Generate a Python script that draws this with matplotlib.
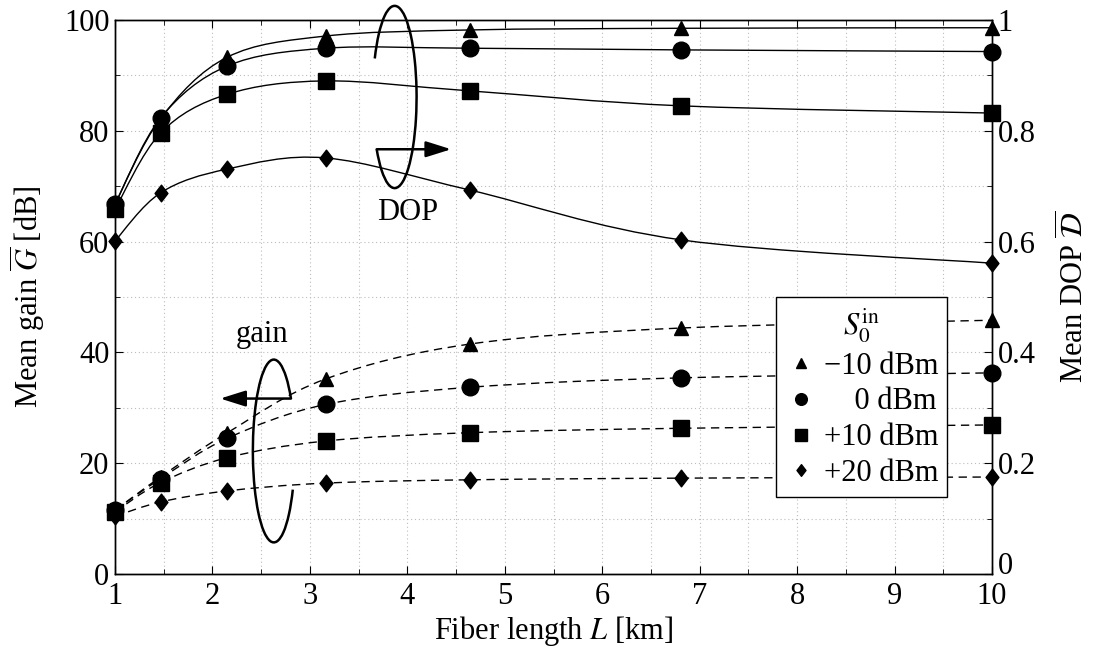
import numpy as np
import matplotlib
matplotlib.use('Agg')
import matplotlib.pyplot as plt
from matplotlib.path import Path
from matplotlib.patches import PathPatch, Arc
from matplotlib.lines import Line2D
from matplotlib.ticker import MultipleLocator, FormatStrFormatter

plt.rcParams['font.family'] = ['Liberation Serif', 'DejaVu Serif']
plt.rcParams['mathtext.fontset'] = 'stix'
plt.rcParams['font.size'] = 22

# fiber lengths [km]
length = [1.0, 1.468, 2.154, 3.162, 4.642, 6.813, 10.0]

# input power levels
power_labels = ['\u221210 dBm', '    0 dBm', '+10 dBm', '+20 dBm']

# wider diamond than matplotlib's 'd'
diamond = Path([(0, 1), (0.77, 0), (0, -1), (-0.77, 0), (0, 1)],
               [Path.MOVETO, Path.LINETO, Path.LINETO, Path.LINETO, Path.CLOSEPOLY])
markers = ['^', 'o', 's', diamond]
msizes = [10, 12, 12, 12]

# mean gain [dB]
gain_m10 = [11.5, 17.5, 25.5, 35.2, 41.5, 44.4, 45.8]
gain_0 = [11.5, 17.2, 24.5, 30.6, 33.7, 35.4, 36.3]
gain_p10 = [11.2, 16.5, 21.0, 24.0, 25.5, 26.3, 26.9]
gain_p20 = [10.4, 13.0, 15.0, 16.4, 17.0, 17.3, 17.5]

# mean DOP
dop_m10 = [0.668, 0.822, 0.933, 0.971, 0.982, 0.985, 0.986]
dop_0 = [0.667, 0.823, 0.917, 0.949, 0.949, 0.946, 0.943]
dop_p10 = [0.658, 0.796, 0.866, 0.890, 0.872, 0.845, 0.832]
dop_p20 = [0.601, 0.688, 0.731, 0.751, 0.693, 0.603, 0.561]

gains = [gain_m10, gain_0, gain_p10, gain_p20]
dops = [dop_m10, dop_0, dop_p10, dop_p20]


def smooth_path(x, y):
    # smooth curve through the points (like pgfplots "smooth")
    pts = np.column_stack([x, y])
    n = len(pts)
    verts = [pts[0]]
    codes = [Path.MOVETO]
    for i in range(n - 1):
        p0 = pts[max(i - 1, 0)]
        p1 = pts[i]
        p2 = pts[i + 1]
        p3 = pts[min(i + 2, n - 1)]
        verts += [p1 + (p2 - p0) / 6, p2 - (p3 - p1) / 6, p2]
        codes += [Path.CURVE4] * 3
    return Path(verts, codes)


def open_ellipse(ax, cx, cy, w, h, t1, t2):
    # t1, t2 are parametric angles; convert to what Arc expects
    th1 = np.degrees(np.arctan2(h * np.sin(np.radians(t1)), w * np.cos(np.radians(t1))))
    th2 = np.degrees(np.arctan2(h * np.sin(np.radians(t2)), w * np.cos(np.radians(t2))))
    ax.add_patch(Arc((cx, cy), w, h, theta1=th1, theta2=th2, lw=1.8,
                     color='black', zorder=5, clip_on=False))


fig = plt.figure(figsize=(10.98, 6.55), dpi=100)
ax = fig.add_axes([0.1047, 0.1237, 0.7988, 0.8458])
ax2 = ax.twinx()

for g, d, m, ms in zip(gains, dops, markers, msizes):
    ax.add_patch(PathPatch(smooth_path(length, g), fill=False, lw=1.0,
                           linestyle=(0, (6, 4)), edgecolor='black', zorder=3))
    ax.plot(length, g, linestyle='none', marker=m, ms=ms, color='black', zorder=4, clip_on=False)
    ax2.add_patch(PathPatch(smooth_path(length, d), fill=False, lw=1.0,
                            edgecolor='black', zorder=3))
    ax2.plot(length, d, linestyle='none', marker=m, ms=ms, color='black', zorder=4, clip_on=False)

ax.set_xlim(1, 10)
ax.set_ylim(0, 100)
ax2.set_ylim(0, 1)

ax.set_xticks(range(1, 11))
ax.xaxis.set_minor_locator(MultipleLocator(0.5))
ax.set_yticks(range(0, 101, 20))
ax.yaxis.set_minor_locator(MultipleLocator(10))
ax2.set_yticks(np.arange(0, 1.01, 0.2))
ax2.yaxis.set_major_formatter(FormatStrFormatter('%g'))
ax2.yaxis.set_minor_locator(MultipleLocator(0.1))

ax.grid(which='both', linestyle=(0, (1, 2.5)), color='#bdbdbd', lw=0.8)
ax.tick_params(which='both', direction='in', top=True, right=False)
ax.tick_params(axis='x', pad=6)
ax.tick_params(axis='y', pad=4)
ax.tick_params(which='major', length=6)
ax.tick_params(which='minor', length=3.5)
ax2.tick_params(which='both', direction='in', pad=4)
ax2.tick_params(which='major', length=6)
ax2.tick_params(which='minor', length=3.5)
for a in (ax, ax2):
    for s in a.spines.values():
        s.set_linewidth(1.0)

# right-hand "0" sits above the corner so it clears the x label "10"
ax2.get_yticklabels()[0].set_va('baseline')

ax.set_xlabel('Fiber length $L$ [km]', labelpad=2)
ax.set_ylabel(r'Mean gain $\overline{G}$ [dB]', labelpad=12)
ax2.set_ylabel(r'Mean DOP $\overline{\mathcal{D}}$', labelpad=16)

# DOP annotation (ellipse + arrow to the right)
cx, cy, w, h = 3.87, 86.1, 0.45, 32.9
open_ellipse(ax, cx, cy, w, h, 215, 155)
sx = cx + w / 2 * np.cos(np.radians(215))
sy = cy + h / 2 * np.sin(np.radians(215))
ax.annotate('', xy=(4.45, sy), xytext=(sx, sy),
            arrowprops=dict(arrowstyle='-|>,head_length=0.7,head_width=0.22',
                            lw=1.8, color='black', shrinkA=0, shrinkB=0), zorder=5)
ax.text(4.0, 65.3, 'DOP', ha='center', va='center')

# gain annotation (ellipse + arrow to the left)
cx, cy, w, h = 2.63, 22.2, 0.43, 33.0
open_ellipse(ax, cx, cy, w, h, 35, 335)
sx = cx + w / 2 * np.cos(np.radians(35))
sy = cy + h / 2 * np.sin(np.radians(35))
ax.annotate('', xy=(2.08, sy), xytext=(sx, sy),
            arrowprops=dict(arrowstyle='-|>,head_length=0.7,head_width=0.22',
                            lw=1.8, color='black', shrinkA=0, shrinkB=0), zorder=5)
ax.text(2.51, 43.3, 'gain', ha='center', va='center')

handles = [Line2D([], [], linestyle='none', marker=m, ms=ms * 0.7, color='black')
           for m, ms in zip(markers, msizes)]
leg = ax2.legend(handles, power_labels, title=r'$S_0^{\mathrm{in}}$',
                 loc='upper left', bbox_to_anchor=(0.754, 0.5), borderaxespad=0,
                 frameon=True, fancybox=False, framealpha=1, edgecolor='black',
                 handlelength=1.0, handletextpad=0.25, labelspacing=0.22,
                 borderpad=0.3, title_fontsize=22)
leg.get_frame().set_linewidth(1.0)
leg.set_zorder(10)

fig.savefig('out.png', dpi=100)
